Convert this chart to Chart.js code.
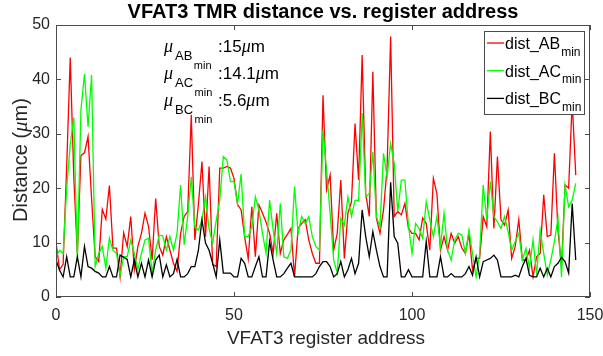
<!DOCTYPE html>
<html>
<head>
    <title>VFAT3 TMR distance</title>
    <script src="https://cdn.jsdelivr.net/npm/chart.js"></script>
    <style>
        body { margin: 0; background-color: #ffffff; }
        #tmrChart { display: block; }
    </style>
</head>
<body>
    <canvas id="tmrChart" width="603" height="356"></canvas>

    <script>
        // register addresses 0..146
        const addresses = Array.from({ length: 147 }, (_, i) => i);

        const distAB = [
            10, 5, 6, 24, 44, 22, 8, 26, 26.5, 29.5,
            18, 7.4, 6.5, 16.1, 14.3, 20.5, 9, 9, 3.7, 11.8,
            9.3, 14.8, 5, 9.3, 11.7, 15.4, 13, 6.8, 18.1, 9.3,
            7.7, 11.1, 8.6, 6.2, 4.7, 11.7, 14.8, 15.7, 33.5, 10.5,
            17, 24.9, 11.1, 24, 6, 5.6, 23.7, 23.7, 24, 23.7,
            21.8, 17, 16, 11, 7, 16.6, 7.4, 16.9, 15.4, 13.8,
            11.7, 8, 15.4, 8, 10.5, 11.5, 12.6, 3.7, 12.6, 13.5,
            14.2, 10.5, 8, 6.2, 6.2, 37.1, 19.7, 22.4, 8.6, 11.7,
            21.5, 7.1, 15.4, 17.5, 31.9, 21.5, 44.5, 19, 14.8, 41.4,
            14.5, 11.7, 16, 23.7, 47.9, 14.8, 15.7, 15.1, 17.2, 12.6,
            11.7, 11.7, 10.5, 14.5, 13.5, 8.6, 21.8, 19, 8.6, 11.1,
            8.6, 11.7, 9.9, 11.1, 9, 8, 11.7, 5, 7.1, 7.1,
            14.8, 12.9, 30.4, 12.6, 25.8, 14.2, 13.2, 16, 7.1, 9.3,
            14.2, 6.8, 6.8, 8.6, 3.7, 7.4, 8, 18.8, 11.1, 11.4,
            26.4, 12.3, 5.6, 20.6, 20, 36, 22.4
        ];

        const distAC = [
            7.4, 8.6, 8, 20, 28, 33, 7, 34.4, 41, 31.3,
            40.8, 5.6, 8, 9.3, 5.3, 10.8, 8.6, 8, 4, 7.4,
            7.4, 10.5, 8, 5, 8, 10.5, 10.8, 4.4, 8.6, 11.4,
            11.2, 8.6, 11.1, 8.6, 11.7, 20.6, 9.6, 14.8, 22.1, 12.9,
            12.3, 14.2, 18.4, 12.5, 9.9, 14, 17.8, 25.8, 25.2, 21.2,
            21.2, 17.2, 22.6, 11.1, 11.1, 12.9, 18.4, 16, 11.7, 8,
            17.8, 12.3, 8, 17.2, 7.4, 7.1, 8.6, 20.3, 11.7, 14.8,
            13.5, 14.8, 11.1, 9.3, 8.6, 30.7, 23.3, 15.4, 6.8, 4.4,
            14.5, 13.2, 18.4, 14.8, 17.8, 17.7, 33.8, 18.4, 19, 26.7,
            14.8, 12.9, 26.4, 22.1, 28.2, 24.6, 15.7, 21.5, 21.5, 13.2,
            8, 13.5, 12.6, 10.8, 17.5, 14.2, 11.1, 14.8, 9.3, 15.4,
            8.6, 6.8, 10.5, 11.7, 11.4, 8, 12.3, 8, 3.7, 8,
            20.6, 14.2, 21.2, 14.8, 13.8, 12.6, 14.8, 12, 8.6, 10.2,
            11.7, 6.8, 8.9, 5.3, 10.5, 4, 12.3, 8, 4, 6.8,
            10.2, 14.5, 3.7, 20.6, 16.6, 17.8, 20.9
        ];

        const distBC = [
            6.8, 4.9, 3.7, 7.4, 3.7, 3.7, 7.4, 3.7, 9.3, 5.6,
            5.3, 4.7, 4.4, 3.7, 3.7, 5.6, 3.7, 3.7, 7.7, 7.3,
            6.9, 3.7, 6.8, 3.7, 6.2, 3.7, 6.8, 3.7, 6.8, 7.7,
            3.7, 5.9, 3.7, 4.3, 6.9, 3.7, 3.7, 4.3, 5.6, 5.6,
            8.6, 14.2, 9.9, 8.6, 6.2, 3.7, 10.5, 4.4, 4.4, 4.4,
            3.7, 3.7, 7.1, 6.2, 3.7, 3.7, 5.6, 7.4, 3.7, 3.7,
            10.2, 6.8, 3.7, 3.7, 4.3, 5.3, 6.2, 3.7, 3.7, 3.7,
            3.7, 3.7, 3.7, 4.3, 5.6, 6.5, 6.5, 5.6, 3.7, 4.3,
            6.5, 3.7, 5, 7.1, 4.3, 6.2, 16, 11.1, 7.4, 12,
            8.6, 5.6, 3.7, 3.7, 21.1, 11.1, 9.9, 3.7, 3.7, 5,
            3.7, 3.7, 3.7, 3.7, 10.2, 3.7, 3.7, 3.7, 7.4, 3.7,
            3.7, 4.3, 3.7, 3.7, 3.7, 4.3, 5.6, 4, 7.4, 3.7,
            6.5, 6.8, 7.1, 7.7, 6.8, 3.7, 3.7, 3.7, 3.7, 4,
            3.7, 5.6, 7.1, 4, 3.7, 3.7, 5.3, 3.7, 5.3, 3.7,
            5.6, 6.2, 7.3, 6.5, 4.4, 17.2, 6.8
        ];

        const seriesNames = ['AB', 'AC', 'BC'];
        const seriesColors = ['#ff0000', '#00ff00', '#000000'];
        const meanLabels = [':15', ':14.1', ':5.6'];

        const xTicks = [0, 50, 100, 150];
        const yTicks = [0, 10, 20, 30, 40, 50];

        const FONT = '"Liberation Sans", Arial, Helvetica, sans-serif';
        const MU_FONT = '"Liberation Serif", "Times New Roman", serif';
        const TEXT = '#262626';

        const toPoints = vals => vals.map((v, i) => ({ x: addresses[i], y: v }));

        // axes box, inward ticks, title, labels, mean text and legend
        const matlabLook = {
            id: 'matlabLook',
            afterDatasetsDraw(chart) {
                const ctx = chart.ctx;
                const a = chart.chartArea;
                const xs = chart.scales.x, ys = chart.scales.y;
                const mid = (a.left + a.right) / 2;
                ctx.save();

                ctx.strokeStyle = '#4a4a4a';
                ctx.lineWidth = 1;
                ctx.strokeRect(a.left + 0.5, a.top + 0.5, a.right - a.left - 1, a.bottom - a.top - 1);
                ctx.beginPath();
                xTicks.forEach(t => {
                    const px = Math.round(xs.getPixelForValue(t)) + 0.5;
                    ctx.moveTo(px, a.bottom); ctx.lineTo(px, a.bottom - 5);
                    ctx.moveTo(px, a.top); ctx.lineTo(px, a.top + 5);
                });
                yTicks.forEach(t => {
                    const py = Math.round(ys.getPixelForValue(t)) + 0.5;
                    ctx.moveTo(a.left, py); ctx.lineTo(a.left + 5, py);
                    ctx.moveTo(a.right, py); ctx.lineTo(a.right - 5, py);
                });
                ctx.stroke();

                ctx.fillStyle = '#000000';
                ctx.textAlign = 'center';
                ctx.textBaseline = 'middle';
                ctx.font = 'bold 20px ' + FONT;
                ctx.fillText('VFAT3 TMR distance vs. register address', mid, 12);

                ctx.fillStyle = TEXT;
                ctx.font = '19px ' + FONT;
                ctx.textBaseline = 'alphabetic';
                ctx.fillText('VFAT3 register address', mid + 3, 344);

                // rotated y label with italic mu
                ctx.save();
                ctx.translate(27, 160);
                ctx.rotate(-Math.PI / 2);
                ctx.textAlign = 'left';
                const p1 = 'Distance (', mu = '\u03bc', p2 = 'm)';
                ctx.font = '20px ' + FONT;
                const w1 = ctx.measureText(p1).width, w3 = ctx.measureText(p2).width;
                ctx.font = 'italic 21px ' + MU_FONT;
                const w2 = ctx.measureText(mu).width;
                const x0 = -(w1 + w2 + w3) / 2;
                ctx.font = '20px ' + FONT;
                ctx.fillText(p1, x0, 0);
                ctx.font = 'italic 21px ' + MU_FONT;
                ctx.fillText(mu, x0 + w1, 0);
                ctx.font = '20px ' + FONT;
                ctx.fillText(p2, x0 + w1 + w2, 0);
                ctx.restore();

                // mean distances
                ctx.textAlign = 'left';
                ctx.fillStyle = '#000000';
                seriesNames.forEach((name, i) => {
                    const base = 52 + 27 * i;
                    ctx.font = 'italic 18px ' + MU_FONT;
                    ctx.fillText(mu, 164, base);
                    ctx.font = '13px ' + FONT;
                    ctx.fillText(name, 175, base + 8);
                    const wn = ctx.measureText(name).width;
                    ctx.font = '11px ' + FONT;
                    ctx.fillText('min', 175 + wn + 1.5, base + 17);
                    ctx.font = '17px ' + FONT;
                    ctx.fillText(meanLabels[i], 218, base);
                    const wm = ctx.measureText(meanLabels[i]).width;
                    ctx.font = 'italic 18px ' + MU_FONT;
                    ctx.fillText(mu, 218 + wm, base);
                    const wmu = ctx.measureText(mu).width;
                    ctx.font = '17px ' + FONT;
                    ctx.fillText('m', 218 + wm + wmu, base);
                });

                // legend box
                ctx.fillStyle = '#ffffff';
                ctx.fillRect(484, 31, 100, 83);
                ctx.strokeStyle = '#4a4a4a';
                ctx.lineWidth = 1;
                ctx.strokeRect(484.5, 31.5, 100, 83);
                seriesNames.forEach((name, i) => {
                    const ry = 43 + 27.7 * i;
                    ctx.strokeStyle = seriesColors[i];
                    ctx.lineWidth = 1.3;
                    ctx.beginPath();
                    ctx.moveTo(487, ry); ctx.lineTo(504, ry);
                    ctx.stroke();
                    ctx.fillStyle = '#000000';
                    ctx.font = '16px ' + FONT;
                    ctx.fillText('dist_' + name, 505, ry + 6);
                    const wt = ctx.measureText('dist_' + name).width;
                    ctx.font = '12px ' + FONT;
                    ctx.fillText('min', 505 + wt + 1, ry + 12.5);
                });
                ctx.restore();
            }
        };

        const ctx = document.getElementById('tmrChart').getContext('2d');
        const chart = new Chart(ctx, {
            type: 'line',
            data: {
                datasets: seriesNames.map((name, i) => ({
                    label: 'dist_' + name + '_min',
                    data: toPoints([distAB, distAC, distBC][i]),
                    borderColor: seriesColors[i],
                    borderWidth: 1.3,
                    pointRadius: 0,
                    tension: 0,
                    order: 3 - i
                }))
            },
            options: {
                responsive: false,
                animation: false,
                devicePixelRatio: 1,
                layout: { padding: { top: 25, right: 13, left: 0, bottom: 0 } },
                plugins: { legend: { display: false }, tooltip: { enabled: false } },
                scales: {
                    x: {
                        type: 'linear', min: 0, max: 150,
                        ticks: { stepSize: 50, color: TEXT, font: { size: 16, family: FONT }, padding: 9, maxRotation: 0 },
                        grid: { display: false, drawTicks: false },
                        border: { display: false },
                        afterFit(s) { s.height = 59; s.paddingLeft = 0; s.paddingRight = 0; }
                    },
                    y: {
                        min: 0, max: 50,
                        ticks: { stepSize: 10, color: TEXT, font: { size: 16, family: FONT }, padding: 6 },
                        grid: { display: false, drawTicks: false },
                        border: { display: false },
                        afterFit(s) { s.width = 56; s.paddingTop = 0; s.paddingBottom = 0; }
                    }
                }
            },
            plugins: [matlabLook]
        });
    </script>
</body>
</html>
